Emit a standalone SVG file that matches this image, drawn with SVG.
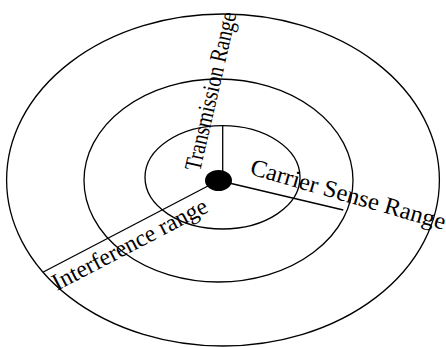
<svg xmlns="http://www.w3.org/2000/svg" width="446" height="347" viewBox="0 0 446 347">
<style>
.ring{fill:none;stroke:#000;stroke-width:1.3}
.ln{stroke:#000;stroke-width:1.3;fill:none}
.lbl{font-family:"Liberation Serif","DejaVu Serif",serif;font-size:24px;fill:#000}
</style>
<rect width="446" height="347" fill="#fff"/>
<g id="ranges">
<ellipse id="interference-ring" class="ring" cx="223" cy="180" rx="216.4" ry="166"/>
<ellipse id="carrier-ring" class="ring" cx="218.5" cy="180.5" rx="134.5" ry="101.5"/>
<ellipse id="transmission-ring" class="ring" cx="222.5" cy="177.3" rx="77.5" ry="51.7"/>
</g>
<g id="connectors">
<line class="ln" x1="222.7" y1="126" x2="222.7" y2="180"/>
<line class="ln" x1="218.5" y1="180.5" x2="343.3" y2="210"/>
<line class="ln" x1="218.5" y1="180.5" x2="43.3" y2="272"/>
</g>
<g id="node">
<ellipse cx="218.5" cy="180.5" rx="13.5" ry="10.5" fill="#000"/>
</g>
<g id="labels">
<text class="lbl" transform="translate(200,172) rotate(-77)" textLength="162" lengthAdjust="spacingAndGlyphs">Transmission Range</text>
<text class="lbl" transform="translate(249,174) rotate(16)" textLength="202" lengthAdjust="spacingAndGlyphs">Carrier Sense Range</text>
<text class="lbl" transform="translate(57,291) rotate(-27.6)" textLength="172" lengthAdjust="spacingAndGlyphs">Interference range</text>
</g>
</svg>
